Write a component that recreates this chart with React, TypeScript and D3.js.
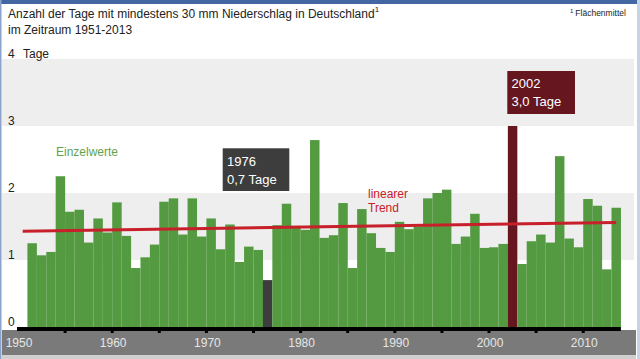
import React from "react";
import * as d3 from "d3";

const years: number[] = d3.range(1951, 2014);
const values: number[] = [
  1.25, 1.07, 1.12, 2.25, 1.72, 1.75, 1.26, 1.62, 1.41, 1.86,
  1.36, 0.88, 1.04, 1.23, 1.87, 1.92, 1.38, 1.92, 1.35, 1.62,
  1.16, 1.53, 0.97, 1.2, 1.15, 0.7, 1.52, 1.84, 1.51, 1.45,
  2.79, 1.33, 1.37, 1.85, 0.88, 1.76, 1.4, 1.18, 1.12, 1.57,
  1.46, 1.5, 1.92, 2.0, 2.05, 1.24, 1.35, 1.69, 1.18, 1.19,
  1.24, 3.0, 0.94, 1.28, 1.38, 1.26, 2.55, 1.32, 1.19, 1.91,
  1.81, 0.86, 1.78,
];
const trendYears: number[] = [1950.5, 2013.5];
const trendValues: number[] = [1.43, 1.56];
const xTicks: number[] = [1950, 1960, 1970, 1980, 1990, 2000, 2010];
const xMinorTicks: number[] = d3.range(1955, 2014, 5);
const yTicks: number[] = [0, 1, 2, 3, 4];
const highlights = [
  { year: 1976, label: "1976", valueText: "0,7 Tage" },
  { year: 2002, label: "2002", valueText: "3,0 Tage" },
];

const W = 640;
const H = 359;
const FONT = "'Liberation Sans', Arial, Helvetica, sans-serif";

export default function App() {
  const x = d3.scaleLinear().domain([1950, 2014]).range([18, 620.9]);
  const y = d3.scaleLinear().domain([0, 4]).range([327, 59]);
  const step = x(1951) - x(1950);

  const barColor = (yr: number) =>
    yr === 1976 ? "#3d3d3d" : yr === 2002 ? "#66161f" : "#539a40";

  const line = d3
    .line<number>()
    .x((_, i) => x(trendYears[i]))
    .y((d) => y(d));

  const bands = [
    [1, 2],
    [3, 4],
  ];

  return (
    <svg
      width={W}
      height={H}
      style={{ position: "absolute", left: 0, top: 0, fontFamily: FONT }}
    >
      <rect x={0} y={0} width={W} height={H} fill="#ffffff" />
      {bands.map(([a, b]) => (
        <rect
          key={a}
          x={2}
          y={y(b)}
          width={632}
          height={y(a) - y(b)}
          fill="#eeeeee"
        />
      ))}
      {years.map((yr, i) => (
        <rect
          key={yr}
          x={x(yr)}
          y={y(values[i])}
          width={step + 0.05}
          height={y(0) - y(values[i])}
          fill={barColor(yr)}
        />
      ))}
      <path d={line(trendValues) || ""} stroke="#c8202a" strokeWidth={3} fill="none" />
      <rect x={2} y={330} width={634} height={25} fill="#7a7a7a" />
      <rect x={2} y={355} width={634} height={4} fill="#cfcfcf" />
      <rect x={x(1950) - 1} y={327} width={x(2014) - x(1950) + 1} height={4} fill="#000" />
      {xMinorTicks.map((t) => (
        <rect key={t} x={x(t) - 1.5} y={330} width={3} height={3} fill="#000" />
      ))}
      {xTicks.map((t) => (
        <text
          key={t}
          x={x(t) + 1}
          y={347}
          fontSize={12}
          fill="#e6e6e6"
          textAnchor="middle"
        >
          {t}
        </text>
      ))}
      {yTicks.map((t) => (
        <text key={t} x={8} y={y(t) - 1} fontSize={12} fill="#222">
          {t}
        </text>
      ))}
      <text x={23} y={y(4) - 1} fontSize={12} fill="#222">
        Tage
      </text>
      <text x={8} y={18} fontSize={12} fill="#222">
        Anzahl der Tage mit mindestens 30 mm Niederschlag in Deutschland
        <tspan fontSize={8} dy={-6}>1</tspan>
      </text>
      <text x={8} y={34} fontSize={12} fill="#222">
        im Zeitraum 1951-2013
      </text>
      <text x={570} y={16} fontSize={8.5} fill="#222">
        <tspan fontSize={6} dy={-3}>1</tspan>
        <tspan dy={3} dx={2}>Flächenmittel</tspan>
      </text>
      <text x={56} y={156} fontSize={12} fill="#5fa24e">
        Einzelwerte
      </text>
      <text x={368} y={198} fontSize={12} fill="#c8202a">
        linearer
      </text>
      <text x={368} y={212} fontSize={12} fill="#c8202a">
        Trend
      </text>
      <rect x={222.7} y={148.3} width={66.6} height={42.7} fill="#3d3d3d" />
      <text x={227} y={166} fontSize={13} fill="#fff">{highlights[0].label}</text>
      <text x={227} y={184} fontSize={13} fill="#fff">{highlights[0].valueText}</text>
      <rect x={507.3} y={71} width={67.7} height={43} fill="#66161f" />
      <text x={511.5} y={88} fontSize={13} fill="#fff">{highlights[1].label}</text>
      <text x={511.5} y={106} fontSize={13} fill="#fff">{highlights[1].valueText}</text>
      <rect x={0} y={0} width={W} height={4} fill="#4467a3" />
      <rect x={0} y={0} width={1.5} height={H} fill="#8aa2cc" />
      <rect x={W - 3} y={0} width={3} height={H} fill="#c9d3e6" />
    </svg>
  );
}
